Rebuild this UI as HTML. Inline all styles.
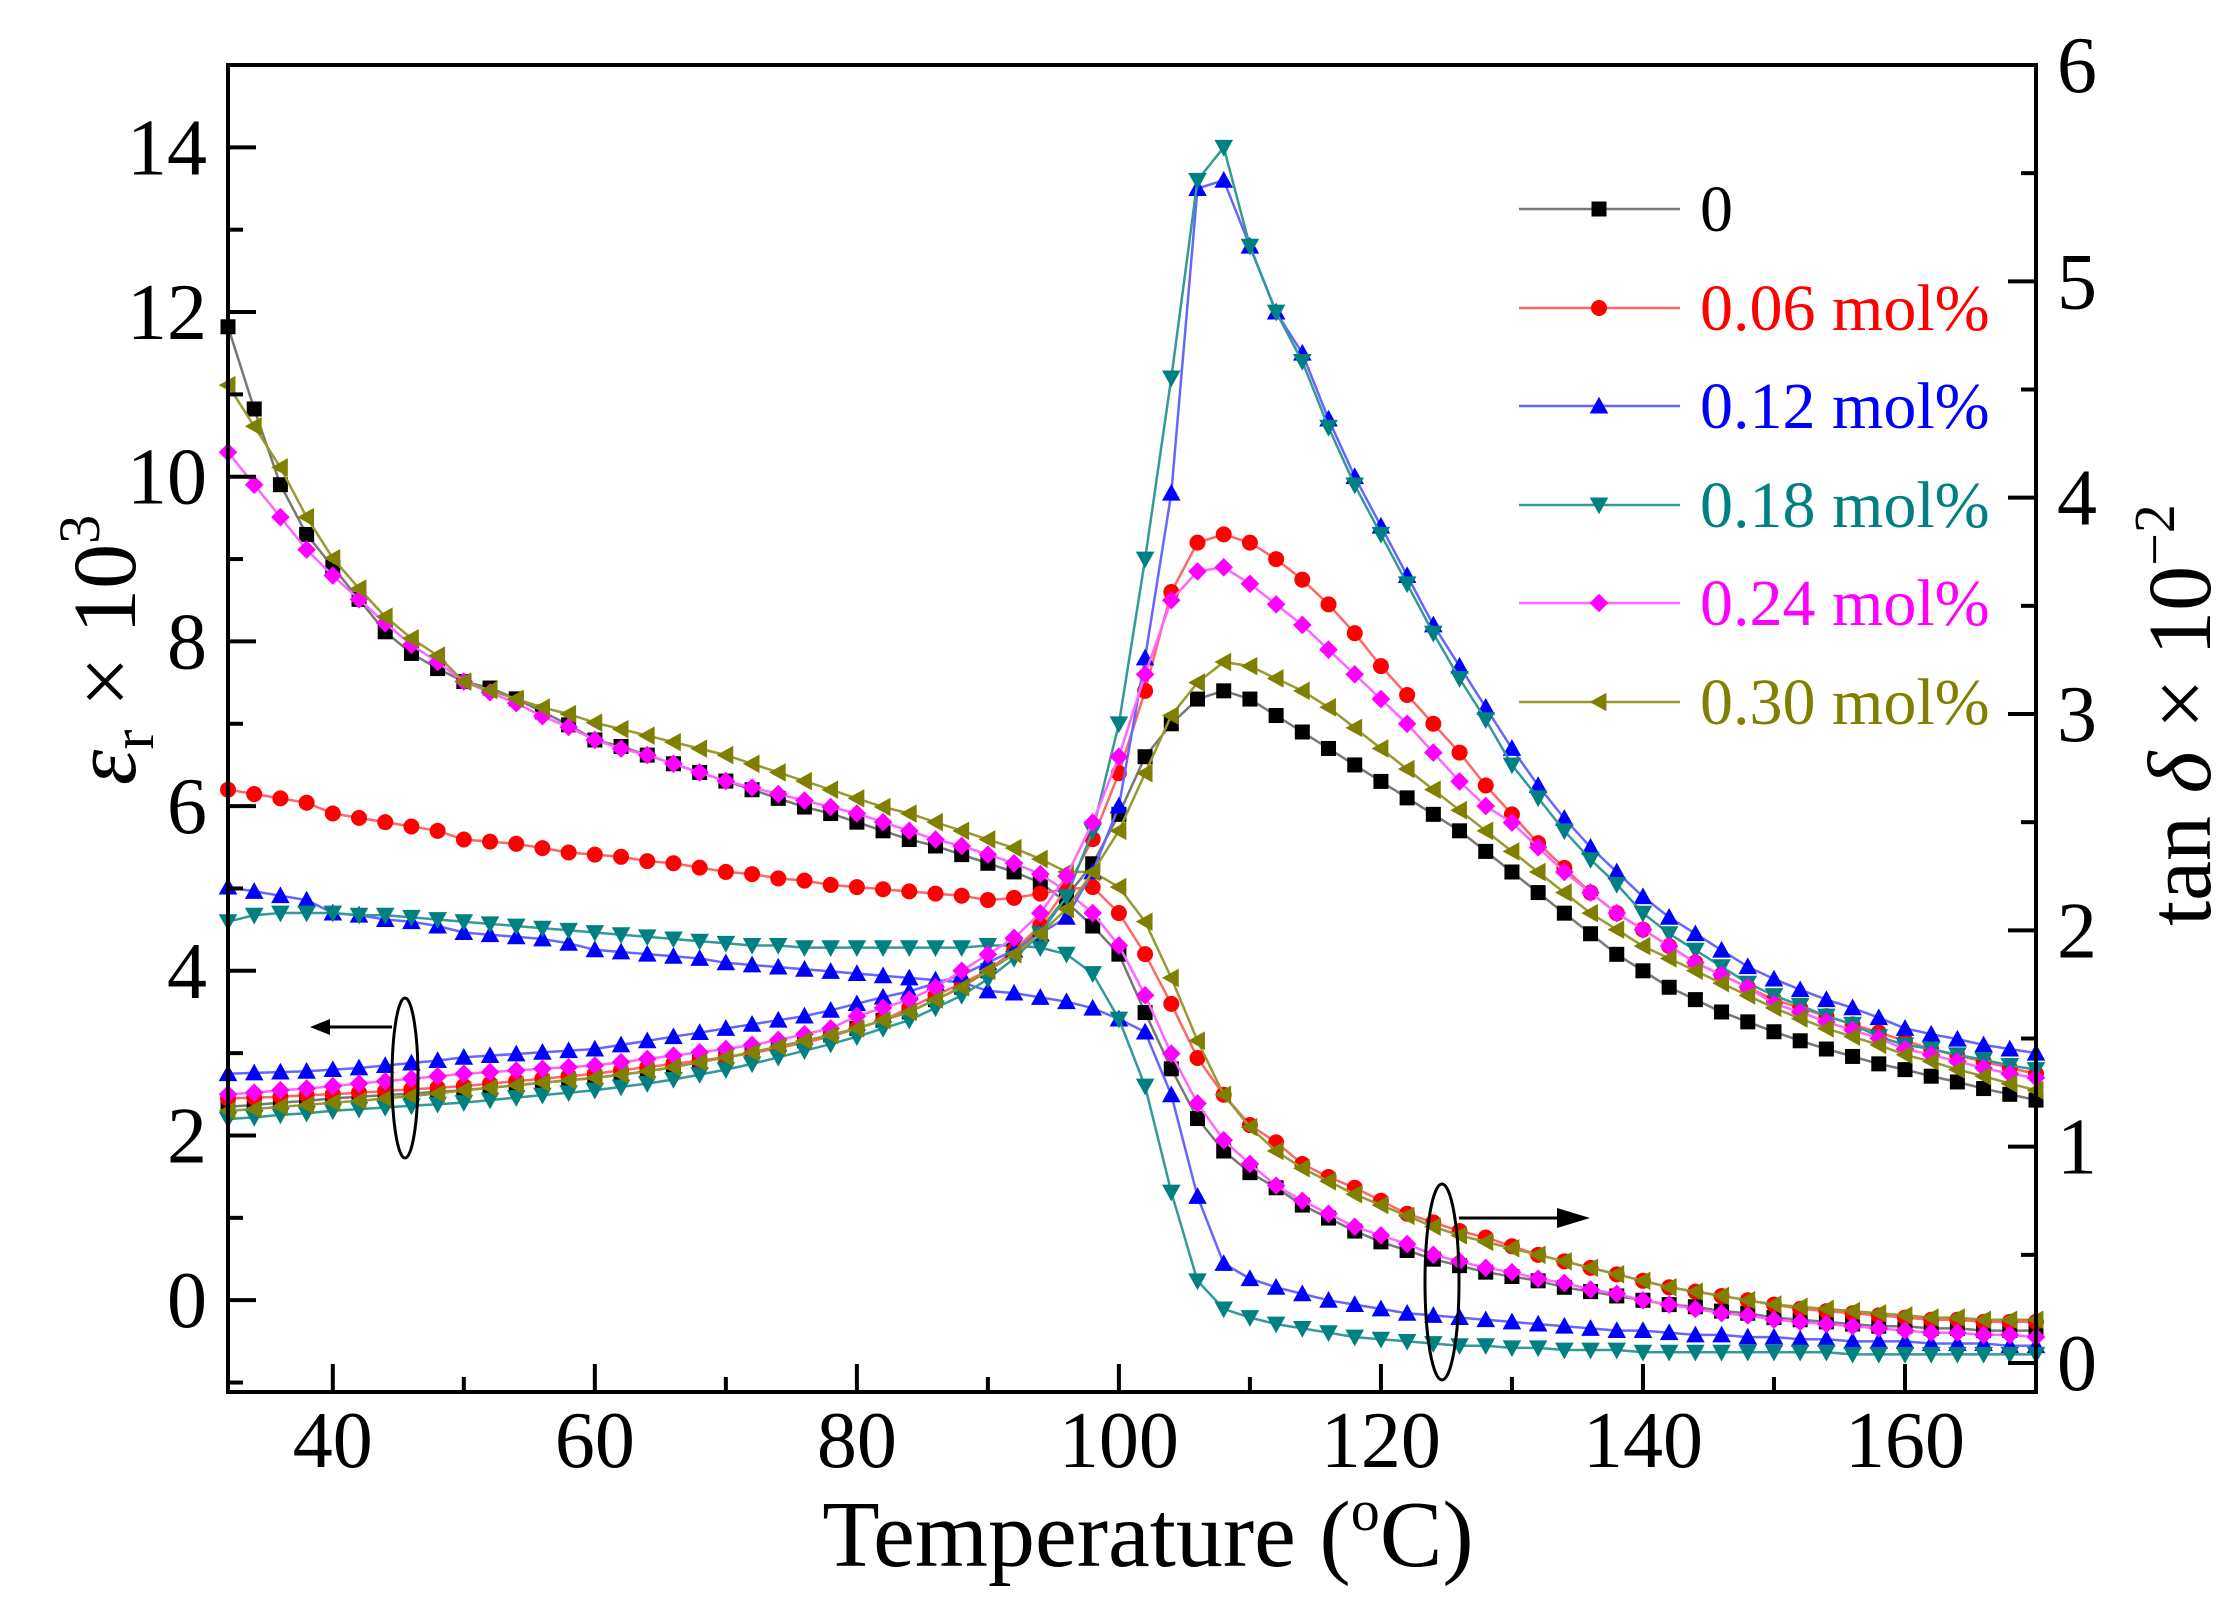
<!DOCTYPE html>
<html><head><meta charset="utf-8">
<style>
html,body{margin:0;padding:0;background:#fff;}
svg{display:block;font-family:"Liberation Serif","Times New Roman",serif;}
</style></head>
<body>
<svg id="chart" width="2235" height="1606" viewBox="0 0 2235 1606" xmlns="http://www.w3.org/2000/svg">
<rect x="0" y="0" width="2235" height="1606" fill="#fff"/>
<g id="plot"></g>
<g id="axes"></g>
</svg>
<script>
const temps=[32,34,36,38,40,42,44,46,48,50,52,54,56,58,60,62,64,66,68,70,72,74,76,78,80,82,84,86,88,90,92,94,96,98,100,102,104,106,108,110,112,114,116,118,120,122,124,126,128,130,132,134,136,138,140,142,144,146,148,150,152,154,156,158,160,162,164,166,168,170];
const seriesNames=["0","0.06 mol%","0.12 mol%","0.18 mol%","0.24 mol%","0.30 mol%"];
const seriesColors=["#000000","#ff0000","#0000ff","#008080","#ff00ff","#808000"];
const lineColors=["#777777","#ff6666","#6666ff","#339999","#ff66ff","#999933"];
const seriesMarkers=["square","circle","up","down","diamond","left"];
const xTicks=[40,60,80,100,120,140,160];
const yLeftTicks=[0,2,4,6,8,10,12,14];
const yRightTicks=[0,1,2,3,4,5,6];
// permittivity (left axis, x10^3)
const eps0=[2.35,2.37,2.4,2.42,2.45,2.47,2.49,2.51,2.53,2.55,2.58,2.61,2.64,2.67,2.7,2.74,2.78,2.83,2.89,2.95,3.01,3.08,3.15,3.22,3.3,3.4,3.5,3.65,3.8,4.0,4.25,4.5,4.9,5.3,5.9,6.6,7.0,7.3,7.4,7.3,7.1,6.9,6.7,6.5,6.3,6.1,5.9,5.7,5.45,5.2,4.95,4.7,4.45,4.2,4.0,3.8,3.65,3.5,3.38,3.26,3.15,3.05,2.96,2.87,2.8,2.72,2.65,2.57,2.5,2.43];
const eps006=[2.45,2.46,2.47,2.49,2.5,2.52,2.54,2.56,2.58,2.6,2.63,2.66,2.69,2.72,2.75,2.79,2.83,2.87,2.91,2.95,3.0,3.06,3.13,3.2,3.3,3.4,3.55,3.7,3.85,4.0,4.25,4.55,5.0,5.6,6.4,7.4,8.6,9.2,9.3,9.2,9.0,8.75,8.45,8.1,7.7,7.35,7.0,6.65,6.25,5.9,5.55,5.25,4.95,4.7,4.5,4.3,4.1,3.95,3.8,3.65,3.55,3.45,3.35,3.25,3.15,3.05,2.97,2.9,2.82,2.75];
const eps012=[2.75,2.76,2.77,2.78,2.8,2.82,2.85,2.88,2.91,2.95,2.97,2.99,3.01,3.03,3.05,3.1,3.15,3.2,3.25,3.3,3.35,3.4,3.45,3.52,3.6,3.68,3.75,3.85,3.95,4.1,4.25,4.45,4.65,5.2,6.0,7.8,9.8,13.5,13.6,12.8,12.0,11.5,10.7,10.0,9.4,8.8,8.2,7.7,7.2,6.7,6.25,5.85,5.5,5.2,4.9,4.65,4.45,4.25,4.05,3.9,3.77,3.65,3.55,3.43,3.3,3.23,3.17,3.1,3.05,3.0];
const eps018=[2.2,2.22,2.25,2.27,2.3,2.32,2.34,2.36,2.38,2.4,2.43,2.46,2.49,2.52,2.55,2.59,2.63,2.68,2.74,2.8,2.87,2.95,3.03,3.11,3.2,3.3,3.4,3.55,3.7,3.9,4.15,4.45,4.9,5.7,7.0,9.0,11.2,13.6,14.0,12.8,12.0,11.4,10.6,9.9,9.3,8.7,8.1,7.55,7.05,6.5,6.1,5.7,5.35,5.05,4.7,4.45,4.25,4.05,3.85,3.7,3.58,3.45,3.35,3.2,3.1,3.05,2.98,2.92,2.85,2.8];
const eps024=[2.5,2.52,2.55,2.57,2.6,2.63,2.66,2.69,2.72,2.75,2.77,2.79,2.81,2.83,2.85,2.89,2.93,2.97,3.01,3.05,3.1,3.16,3.23,3.3,3.45,3.55,3.65,3.8,4.0,4.2,4.4,4.7,5.15,5.8,6.6,7.6,8.5,8.85,8.9,8.7,8.45,8.2,7.9,7.6,7.3,7.0,6.65,6.3,6.0,5.8,5.5,5.2,4.95,4.7,4.5,4.3,4.1,3.95,3.8,3.6,3.5,3.38,3.28,3.18,3.05,2.98,2.9,2.82,2.75,2.7];
const eps030=[2.3,2.32,2.35,2.37,2.4,2.42,2.45,2.48,2.51,2.55,2.58,2.61,2.64,2.67,2.7,2.74,2.78,2.83,2.89,2.95,3.01,3.08,3.15,3.22,3.3,3.4,3.5,3.65,3.8,4.0,4.2,4.45,4.75,5.2,5.7,6.4,7.1,7.5,7.75,7.7,7.55,7.4,7.2,6.95,6.7,6.45,6.2,5.95,5.7,5.45,5.2,4.95,4.7,4.5,4.3,4.15,4.0,3.85,3.7,3.55,3.42,3.3,3.2,3.1,2.98,2.9,2.8,2.72,2.63,2.55];
// loss tangent (right axis, x10^-2)
const tan0=[4.79,4.41,4.06,3.83,3.68,3.53,3.38,3.28,3.21,3.15,3.12,3.07,3.01,2.95,2.88,2.85,2.81,2.77,2.73,2.69,2.65,2.61,2.57,2.54,2.5,2.46,2.42,2.39,2.35,2.31,2.27,2.22,2.13,2.02,1.89,1.62,1.36,1.13,0.98,0.88,0.81,0.73,0.67,0.61,0.56,0.52,0.48,0.45,0.42,0.4,0.38,0.35,0.33,0.31,0.29,0.27,0.26,0.24,0.23,0.21,0.2,0.19,0.18,0.17,0.17,0.16,0.16,0.15,0.15,0.15];
const tan006=[2.65,2.63,2.61,2.59,2.54,2.52,2.5,2.48,2.46,2.42,2.41,2.4,2.38,2.36,2.35,2.34,2.32,2.31,2.29,2.27,2.26,2.24,2.23,2.21,2.2,2.19,2.18,2.17,2.16,2.14,2.15,2.17,2.19,2.2,2.08,1.89,1.66,1.41,1.24,1.1,1.02,0.92,0.86,0.81,0.75,0.69,0.65,0.61,0.58,0.54,0.5,0.47,0.44,0.41,0.38,0.35,0.33,0.31,0.29,0.27,0.25,0.24,0.23,0.22,0.21,0.2,0.2,0.19,0.19,0.19];
const tan012=[2.2,2.18,2.16,2.14,2.08,2.07,2.05,2.04,2.02,1.99,1.98,1.97,1.96,1.94,1.91,1.9,1.89,1.88,1.87,1.85,1.84,1.83,1.82,1.81,1.8,1.79,1.78,1.77,1.76,1.72,1.71,1.69,1.67,1.64,1.59,1.53,1.24,0.77,0.46,0.39,0.35,0.32,0.29,0.27,0.25,0.23,0.22,0.21,0.2,0.19,0.18,0.17,0.16,0.15,0.15,0.14,0.13,0.13,0.12,0.12,0.11,0.11,0.1,0.1,0.1,0.09,0.09,0.09,0.08,0.08];
const tan018=[2.04,2.07,2.08,2.08,2.08,2.07,2.07,2.06,2.05,2.04,2.03,2.02,2.01,2.0,1.99,1.98,1.97,1.96,1.95,1.94,1.93,1.93,1.92,1.92,1.92,1.92,1.92,1.92,1.92,1.93,1.93,1.92,1.89,1.8,1.59,1.28,0.79,0.38,0.25,0.21,0.18,0.16,0.14,0.12,0.11,0.1,0.09,0.08,0.08,0.07,0.07,0.06,0.06,0.06,0.05,0.05,0.05,0.05,0.05,0.05,0.05,0.05,0.04,0.04,0.04,0.04,0.04,0.04,0.04,0.04];
const tan024=[4.21,4.06,3.91,3.76,3.64,3.53,3.42,3.32,3.24,3.15,3.1,3.05,2.99,2.94,2.88,2.84,2.81,2.77,2.73,2.69,2.66,2.63,2.6,2.57,2.54,2.5,2.46,2.42,2.39,2.35,2.31,2.26,2.18,2.08,1.93,1.7,1.43,1.2,1.03,0.92,0.82,0.75,0.69,0.63,0.59,0.55,0.5,0.47,0.44,0.42,0.39,0.37,0.34,0.32,0.29,0.27,0.25,0.23,0.22,0.2,0.19,0.18,0.17,0.16,0.15,0.14,0.14,0.13,0.13,0.12];
const tan030=[4.52,4.33,4.14,3.91,3.72,3.58,3.45,3.35,3.27,3.15,3.11,3.07,3.03,3.0,2.96,2.93,2.9,2.87,2.84,2.81,2.77,2.73,2.69,2.65,2.61,2.57,2.54,2.5,2.46,2.42,2.38,2.33,2.27,2.27,2.2,2.04,1.78,1.49,1.24,1.09,0.98,0.9,0.84,0.78,0.73,0.68,0.63,0.59,0.56,0.53,0.5,0.47,0.44,0.41,0.38,0.35,0.33,0.31,0.29,0.27,0.26,0.25,0.24,0.23,0.22,0.21,0.21,0.2,0.2,0.2];

const epsSeries=[eps0,eps006,eps012,eps018,eps024,eps030];
const tanSeries=[tan0,tan006,tan012,tan018,tan024,tan030];

const X0=228,X1=2036,YT=65,YB=1392;
const xMin=32,xMax=170;
const eMin=-1.115,eMax=15;
const tMin=-0.134,tMax=6.0;
function xS(t){return X0+(t-xMin)/(xMax-xMin)*(X1-X0);}
function yE(v){return YB-(v-eMin)/(eMax-eMin)*(YB-YT);}
function yT(v){return YB-(v-tMin)/(tMax-tMin)*(YB-YT);}

const NS="http://www.w3.org/2000/svg";
function mk(tag,attrs,parent){const e=document.createElementNS(NS,tag);for(const k in attrs)e.setAttribute(k,attrs[k]);parent.appendChild(e);return e;}
function marker(type,x,y,s,color,parent){
  let e;
  if(type==="square"){e=mk("rect",{x:x-s/2,y:y-s/2,width:s,height:s,fill:color},parent);}
  else if(type==="circle"){e=mk("circle",{cx:x,cy:y,r:s/2+0.5,fill:color},parent);}
  else{
    let p;const h=s*0.62;
    if(type==="up")p=[[x,y-h],[x-h,y+h*0.8],[x+h,y+h*0.8]];
    else if(type==="down")p=[[x,y+h],[x-h,y-h*0.8],[x+h,y-h*0.8]];
    else if(type==="left")p=[[x-h,y],[x+h*0.8,y-h],[x+h*0.8,y+h]];
    else p=[[x,y-h],[x+h,y],[x,y+h],[x-h,y]];
    e=mk("polygon",{points:p.map(q=>q.join(",")).join(" "),fill:color},parent);
  }
  return e;
}
const plot=document.getElementById("plot");
const axes=document.getElementById("axes");

function drawSeries(arr,idx,yf,kind){
  const g=mk("g",{},plot);
  
  
  const pts=temps.map((t,i)=>xS(t).toFixed(1)+","+yf(arr[i]).toFixed(1)).join(" ");
  const pl=mk("polyline",{points:pts,fill:"none",stroke:lineColors[idx],"stroke-width":2.5},g);
  
  
  temps.forEach((t,i)=>{
    const m=marker(seriesMarkers[idx],xS(t),yf(arr[i]),15,seriesColors[idx],g);
    
    
  });
}
[0,1,2,3,4,5].forEach(i=>drawSeries(tanSeries[i],i,yT,'tan'));
[0,1,2,3,4,5].forEach(i=>drawSeries(epsSeries[i],i,yE,'eps'));

const fr=mk("rect",{x:X0,y:YT,width:X1-X0,height:YB-YT,fill:"none",stroke:"#000","stroke-width":4},axes);



for(let t=40;t<=170;t+=10){
  const major=xTicks.includes(t);
  const l=mk("line",{x1:xS(t),x2:xS(t),y1:YB,y2:YB-(major?28:15),stroke:"#000","stroke-width":4},axes);
  
  
}
xTicks.forEach(t=>{
  const tx=mk("text",{x:xS(t),y:1467,"text-anchor":"middle","font-size":80,fill:"#000"},axes);
  tx.textContent=t;
  
  
});
for(let v=-1;v<=14;v+=1){
  const major=yLeftTicks.includes(v);
  const l=mk("line",{x1:X0,x2:X0+(major?28:15),y1:yE(v),y2:yE(v),stroke:"#000","stroke-width":4},axes);
  
  
}
yLeftTicks.forEach(v=>{
  const tx=mk("text",{x:207,y:yE(v)+27,"text-anchor":"end","font-size":80,fill:"#000"},axes);
  tx.textContent=v;
  
  
});
for(let v=0;v<=5.5;v+=0.5){
  const major=yRightTicks.includes(v);
  const l=mk("line",{x1:X1,x2:X1-(major?28:15),y1:yT(v),y2:yT(v),stroke:"#000","stroke-width":4},axes);
  
  
}
yRightTicks.forEach(v=>{
  const tx=mk("text",{x:2057,y:yT(v)+27,"text-anchor":"start","font-size":80,fill:"#000"},axes);
  tx.textContent=v;
  
  
});

const legY=[209,308,406,505,603,702];
const lg=mk("g",{},axes);


seriesNames.forEach((n,i)=>{
  const e=mk("g",{},lg);
  
  
  mk("line",{x1:1519,x2:1680,y1:legY[i],y2:legY[i],stroke:lineColors[i],"stroke-width":2.5},e);
  marker(seriesMarkers[i],1599,legY[i],15,seriesColors[i],e);
  const tx=mk("text",{x:1700,y:legY[i]+22,"font-size":66,fill:seriesColors[i]},e);
  tx.textContent=n;
});
</script>
<svg width="2235" height="1606" style="position:absolute;left:0;top:0" xmlns="http://www.w3.org/2000/svg">
  <g fill="none" stroke="#000" stroke-width="3">
    <ellipse cx="405" cy="1078" rx="13" ry="80"/>
    <line x1="392" y1="1027" x2="325" y2="1027"/>
    <polygon points="310,1027 330,1019 330,1035" fill="#000" stroke="none"/>
    <ellipse cx="1442" cy="1282" rx="17" ry="98"/>
    <line x1="1459" y1="1218" x2="1560" y2="1218"/>
    <polygon points="1590,1218 1557,1208 1557,1228" fill="#000" stroke="none"/>
  </g>
  <text x="1148" y="1566" text-anchor="middle" font-family="Liberation Serif, serif" font-size="94">Temperature (<tspan font-size="58" dy="-36">o</tspan><tspan dy="36">C)</tspan></text>
  <text transform="translate(135,650) rotate(-90)" text-anchor="middle" font-family="Liberation Serif, serif" font-size="90"><tspan font-style="italic">ε</tspan><tspan font-size="60" dy="18">r</tspan><tspan dy="-18"> × 10</tspan><tspan font-size="58" dy="-36">3</tspan></text>
  <text transform="translate(2210,715) rotate(-90)" text-anchor="middle" font-family="Liberation Serif, serif" font-size="90">tan <tspan font-style="italic">δ</tspan> × 10<tspan font-size="58" dy="-36">−2</tspan></text>
</svg>
</body></html>
